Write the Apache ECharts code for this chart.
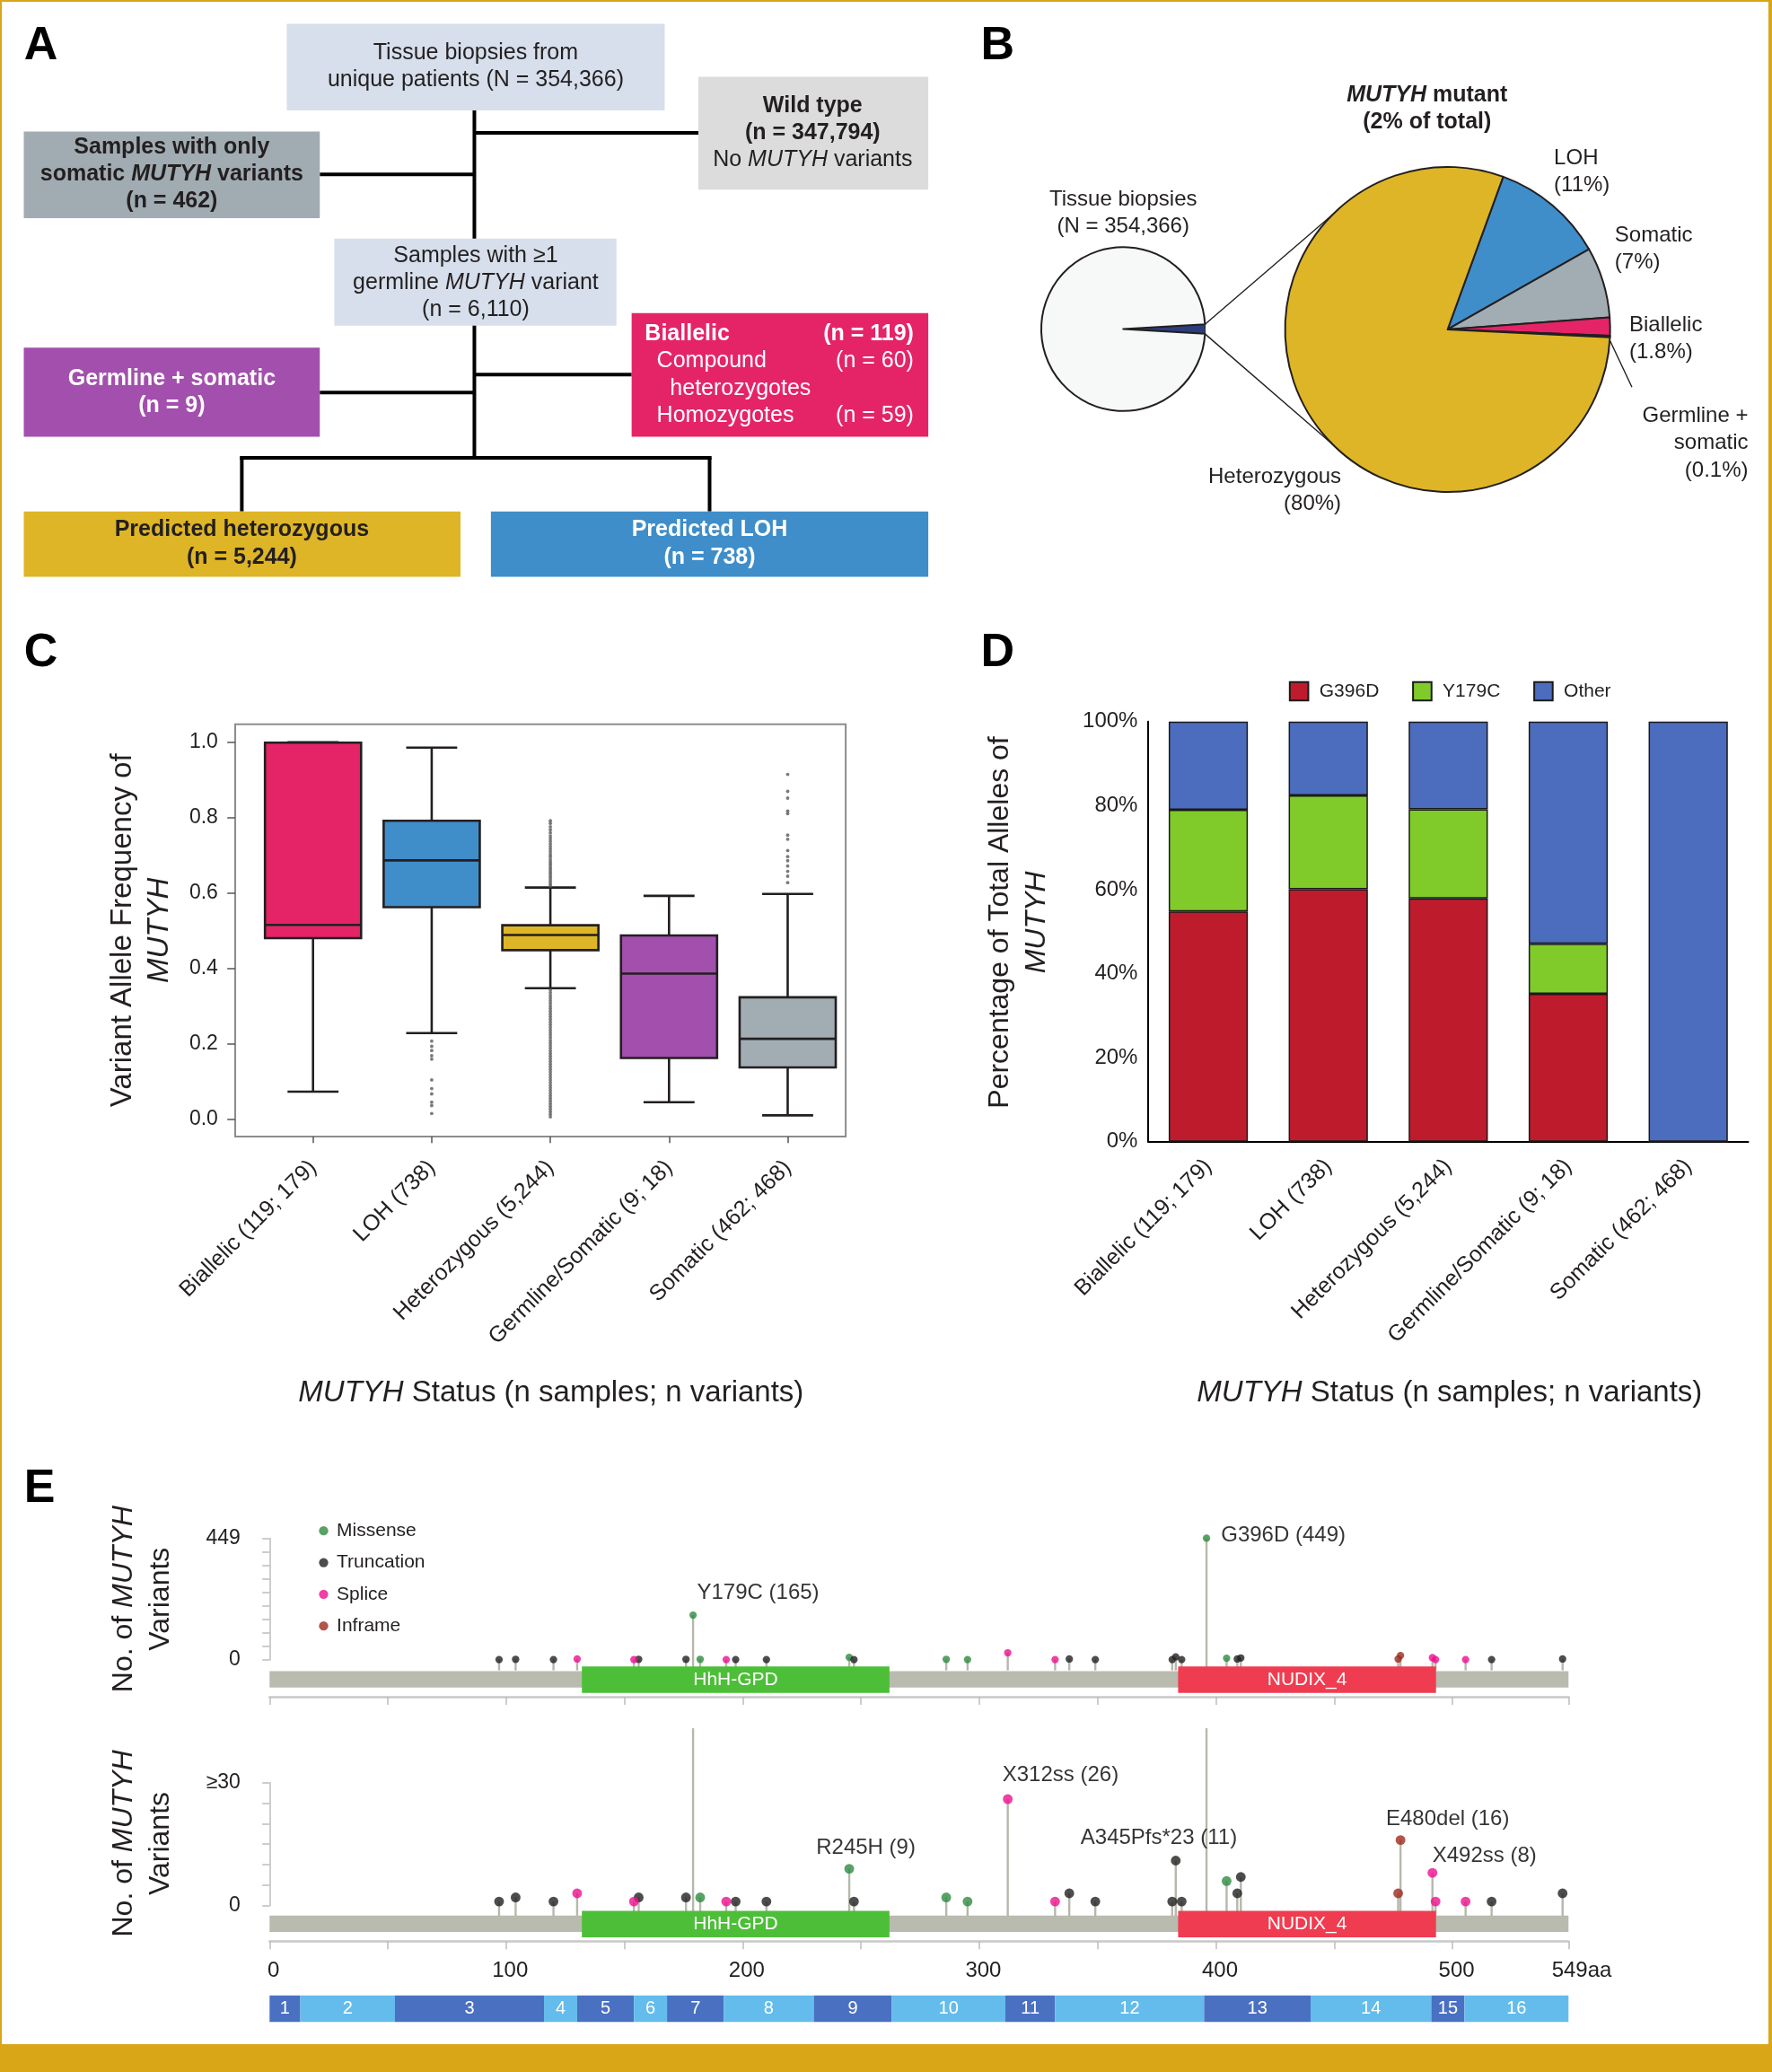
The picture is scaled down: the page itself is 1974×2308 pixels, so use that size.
<!DOCTYPE html>
<html><head><meta charset="utf-8">
<script src="https://cdn.jsdelivr.net/npm/echarts@6/dist/echarts.min.js"></script>
<style>
html,body{margin:0;padding:0;}
#bg{position:absolute;left:0;top:0;width:1974px;height:2308px;background:#D9A618;}
#paper{position:absolute;left:2px;top:2px;width:1968px;height:2275px;background:#fff;}
#c{position:absolute;left:0;top:0;width:1974px;height:2308px;}
</style>
</head><body>
<div id="bg"></div><div id="paper"></div><div id="c"></div>
<script>
// ================= DATA =================
// Panel B
const tissueNames = ['MUTYH mutant', 'Wild type'];
const tissueCounts = [6572, 347794];
const mutantNames = ['LOH', 'Somatic', 'Biallelic', 'Germline + somatic', 'Heterozygous'];
const mutantCounts = [738, 462, 119, 9, 5244];
const mutantLabelNames = ['LOH', 'Somatic', 'Biallelic', 'Germline +\nsomatic', 'Heterozygous'];
const mutantPctLabels = ['11%', '7%', '1.8%', '0.1%', '80%'];

// Panel C
const statusCategories = ['Biallelic (119; 179)', 'LOH (738)', 'Heterozygous (5,244)', 'Germline/Somatic (9; 18)', 'Somatic (462; 468)'];
// [low whisker, Q1, median, Q3, high whisker]
const vafBoxes = [
  [0.074, 0.481, 0.516, 0.999, 1.000],
  [0.229, 0.563, 0.687, 0.792, 0.986],
  [0.348, 0.449, 0.489, 0.515, 0.615],
  [0.046, 0.163, 0.387, 0.488, 0.593],
  [0.011, 0.138, 0.214, 0.324, 0.598]
];
const vafOutliersLOH = [0.208, 0.194, 0.183, 0.169, 0.160, 0.105, 0.082, 0.068, 0.046, 0.037, 0.016];
const vafOutliersHet = [0.792, 0.785, 0.776, 0.768, 0.760, 0.752, 0.745, 0.738, 0.731, 0.724, 0.717, 0.710, 0.703, 0.697, 0.690, 0.684, 0.678, 0.672, 0.666, 0.660, 0.654, 0.648, 0.642, 0.636, 0.630, 0.624, 0.619,
  0.343, 0.336, 0.329, 0.322, 0.315, 0.308, 0.301, 0.294, 0.287, 0.280, 0.273, 0.266, 0.259, 0.252, 0.245, 0.238, 0.231, 0.224, 0.217, 0.210, 0.203, 0.196, 0.189, 0.182, 0.175, 0.168, 0.161, 0.154, 0.147, 0.140, 0.133, 0.126, 0.119, 0.112, 0.105, 0.098, 0.091, 0.084, 0.077, 0.070, 0.063, 0.056, 0.049, 0.042, 0.035, 0.028, 0.021, 0.014, 0.007];
const vafOutliersSomatic = [0.915, 0.870, 0.852, 0.818, 0.811, 0.754, 0.743, 0.713, 0.697, 0.686, 0.672, 0.658, 0.645, 0.628];
const vafTicks = [0, 0.2, 0.4, 0.6, 0.8, 1.0];

// Panel D
const pctG396D = [54.8, 60.1, 57.9, 35.2, 0];
const pctY179C = [24.2, 22.3, 21.2, 11.9, 0];
const pctOther = [21.0, 17.6, 20.9, 52.9, 100];

// Panel E
const proteinLength = 549;
const domains = [['HhH-GPD', 132, 262], ['NUDIX_4', 384, 493]];
const exons = [[1, 0, 13], [2, 13, 53], [3, 53, 116], [4, 116, 130], [5, 130, 154], [6, 154, 168], [7, 168, 192], [8, 192, 230],
  [9, 230, 263], [10, 263, 311], [11, 311, 332], [12, 332, 395], [13, 395, 440], [14, 440, 491], [15, 491, 505], [16, 505, 549]];
const mutTypes = ['Missense', 'Truncation', 'Splice', 'Inframe'];
// [amino-acid position, count, type, name]
const mutations = [
  [97, 1, 'Truncation', ''], [104, 2, 'Truncation', ''], [120, 1, 'Truncation', ''], [130, 3, 'Splice', ''],
  [154, 1, 'Splice', ''], [156, 2, 'Truncation', ''], [176, 2, 'Truncation', ''], [179, 165, 'Missense', 'Y179C'],
  [182, 2, 'Missense', ''], [193, 1, 'Splice', ''], [197, 1, 'Truncation', ''], [210, 1, 'Truncation', ''],
  [245, 9, 'Missense', 'R245H'], [247, 1, 'Truncation', ''], [286, 2, 'Missense', ''], [295, 1, 'Missense', ''],
  [312, 26, 'Splice', 'X312ss'], [332, 1, 'Splice', ''], [338, 3, 'Truncation', ''], [349, 1, 'Truncation', ''],
  [381.5, 1, 'Truncation', ''], [383, 11, 'Truncation', 'A345Pfs*23'], [385.5, 1, 'Truncation', ''], [396, 449, 'Missense', 'G396D'],
  [404.5, 6, 'Missense', ''], [409, 3, 'Truncation', ''], [410.5, 7, 'Truncation', ''], [477, 3, 'Inframe', ''],
  [478, 16, 'Inframe', 'E480del'], [491.5, 8, 'Splice', 'X492ss'], [492.8, 1, 'Splice', ''], [505.5, 1, 'Splice', ''],
  [516.5, 1, 'Truncation', ''], [546.5, 3, 'Truncation', '']
];
const aaTickValues = [0, 50, 100, 150, 200, 250, 300, 350, 400, 450, 500, 549];
const aaLabelValues = [0, 100, 200, 300, 400, 500, 549];
const topCountLabels = [0, 449];
const bottomCountLabels = [0, 30];

// ================= STYLE =================
const S = 1974 / 1341;
const P = v => v * S;
const FONT = '"Liberation Sans", Arial, sans-serif';
const INK = '#231F20';
const statusColors = ['#E52467', '#3F8DC9', '#DEB526', '#A34FAD', '#A2ADB3'];
const pieColors = ['#3F8DC9', '#A2ADB3', '#E52467', '#3a3a3a', '#DEB526'];
const mutColors = { Missense: '#2E8B40', Truncation: '#231F20', Splice: '#EE0F8D', Inframe: '#9E2A1F' };
const domainColors = { 'HhH-GPD': '#4DBE38', 'NUDIX_4': '#F03C50' };
const exonColors = ['#4A70C2', '#63BCEC'];
const labelOffsets = { // display px relative to dot centre
  'Y179C': [3, -17], 'G396D': [11, -2], 'X312ss': [-4, -18], 'R245H': [-25, -16],
  'A345Pfs*23': [-72, -17], 'E480del': [-11, -16], 'X492ss': [0, -13]
};
const BOTTOM_MAX = 30, BOTTOM_CLIP = 43.3;

const chart = echarts.init(document.getElementById('c'), null, { renderer: 'canvas' });

// ---------- graphic helpers ----------
const rs = (size, weight, italic, color) => ({ fontSize: size, fontFamily: FONT, fontWeight: weight, fontStyle: italic ? 'italic' : 'normal', fill: color, lineHeight: P(20.5) });
function T(x, y, text, o) {
  return { type: 'text', x: P(x), y: P(y), silent: true, z: 10,
    style: Object.assign({ text: text, fontSize: 25, fontFamily: FONT, fill: INK, align: 'center', verticalAlign: 'middle', lineHeight: P(20.5) }, o || {}) };
}
function BOX(x1, y1, x2, y2, fill) {
  return { type: 'rect', silent: true, z: 5, shape: { x: P(x1), y: P(y1), width: P(x2 - x1), height: P(y2 - y1) }, style: { fill: fill } };
}
function LN(x1, y1, x2, y2, w, c) {
  return { type: 'line', silent: true, z: 4, shape: { x1: P(x1), y1: P(y1), x2: P(x2), y2: P(y2) }, style: { stroke: c || '#000', lineWidth: w } };
}
const G = [];
// panel letters
[['A', 31, 35], ['B', 755, 35], ['C', 31, 494], ['D', 755, 494], ['E', 30, 1127]].forEach(l =>
  G.push(T(l[1], l[2], l[0], { fontSize: 52, fontWeight: 'bold', fill: '#000' })));

// ---------- Panel A flowchart ----------
const LW = 4;
G.push(LN(359, 83, 359, 181, LW), LN(359, 100.5, 529, 100.5, LW), LN(242, 132, 359, 132, LW),
  LN(359, 246, 359, 347, LW), LN(359, 283.5, 478, 283.5, LW), LN(242, 297, 359, 297, LW),
  LN(181.5, 346.5, 538.5, 346.5, LW), LN(183, 346.5, 183, 387, LW), LN(537, 346.5, 537, 387, LW));
G.push(BOX(217, 18, 503, 83.5, '#D6DFEB'), BOX(528.5, 58, 702.5, 143.5, '#DCDCDC'),
  BOX(18, 99.5, 242, 165, '#A1ACB2'), BOX(253, 180.5, 466.5, 246.5, '#D6DFEB'),
  BOX(18, 263, 242, 330.5, '#A34FAD'), BOX(478, 237, 702.5, 330.5, '#E52467'),
  BOX(18, 387, 348.5, 436.5, '#DEB526'), BOX(371.5, 387, 702.5, 436.5, '#3F8DC9'));
G.push(T(360, 50.3, 'Tissue biopsies from\nunique patients (N = 354,366)'));
G.push(T(615, 100.5, '{b|Wild type}\n{b|(n = 347,794)}\n{n|No }{i|MUTYH}{n| variants}',
  { rich: { b: rs(25, 'bold', false, INK), n: rs(25, 'normal', false, INK), i: rs(25, 'normal', true, INK) } }));
G.push(T(130, 132, '{b|Samples with only}\n{b|somatic }{i|MUTYH}{b| variants}\n{b|(n = 462)}',
  { rich: { b: rs(25, 'bold', false, INK), i: rs(25, 'bold', true, INK) } }));
G.push(T(360, 214, '{n|Samples with ≥1}\n{n|germline }{i|MUTYH}{n| variant}\n{n|(n = 6,110)}',
  { rich: { n: rs(25, 'normal', false, INK), i: rs(25, 'normal', true, INK) } }));
G.push(T(130, 296.8, 'Germline + somatic\n(n = 9)', { fontWeight: 'bold', fill: '#fff' }));
G.push(T(488, 253, 'Biallelic', { align: 'left', fontWeight: 'bold', fill: '#fff' }));
G.push(T(497, 273.5, 'Compound', { align: 'left', fill: '#fff' }));
G.push(T(507, 294, 'heterozygotes', { align: 'left', fill: '#fff' }));
G.push(T(497, 314.5, 'Homozygotes', { align: 'left', fill: '#fff' }));
G.push(T(691.5, 253, '(n = 119)', { align: 'right', fontWeight: 'bold', fill: '#fff' }));
G.push(T(691.5, 273.5, '(n = 60)', { align: 'right', fill: '#fff' }));
G.push(T(691.5, 314.5, '(n = 59)', { align: 'right', fill: '#fff' }));
G.push(T(183, 411.4, 'Predicted heterozygous\n(n = 5,244)', { fontWeight: 'bold' }));
G.push(T(537, 411.4, 'Predicted LOH\n(n = 738)', { fontWeight: 'bold', fill: '#fff' }));

// ---------- Panel B texts & connectors ----------
const smallC = [850, 249], smallR = 62, bigC = [1095.5, 249.3], bigR = 123;
const mutFrac = tissueCounts[0] / (tissueCounts[0] + tissueCounts[1]);
const halfWedge = Math.PI * mutFrac;
const bigTangent = 3 * Math.PI / 4;
G.push(LN(smallC[0] + smallR * Math.cos(halfWedge), smallC[1] - smallR * Math.sin(halfWedge),
  bigC[0] + bigR * Math.cos(bigTangent), bigC[1] - bigR * Math.sin(bigTangent), 1.4, '#231F20'));
G.push(LN(smallC[0] + smallR * Math.cos(halfWedge), smallC[1] + smallR * Math.sin(halfWedge),
  bigC[0] + bigR * Math.cos(bigTangent), bigC[1] + bigR * Math.sin(bigTangent), 1.4, '#231F20'));
G.push(LN(1218.5, 258, 1235, 293, 1.4, '#231F20'));
G.push(T(1080, 82, '{i|MUTYH}{b| mutant}\n{b|(2% of total)}',
  { rich: { b: rs(25, 'bold', false, INK), i: rs(25, 'bold', true, INK) } }));
G.push(T(850, 161, 'Tissue biopsies\n(N = 354,366)', { fontSize: 24 }));
const pieLabelLayout = [[1176, 120, 'left'], [1222, 178, 'left'], [1233, 246, 'left'], [1323, 315, 'right'], [1015, 361, 'right']];
mutantNames.forEach((n, i) => {
  const L = pieLabelLayout[i];
  G.push(T(L[0], L[1] - 10.25, mutantLabelNames[i] + '\n(' + mutantPctLabels[i] + ')', { fontSize: 24, align: L[2], verticalAlign: 'top' }));
});

// ---------- Axis titles ----------
const titleRich = sz => ({ n: { fontSize: sz, fontFamily: FONT, fill: INK, lineHeight: P(28) }, i: { fontSize: sz, fontFamily: FONT, fontStyle: 'italic', fill: INK, lineHeight: P(28) } });
G.push(T(417, 1054, '{i|MUTYH}{n| Status (n samples; n variants)}', { rich: titleRich(33) }));
G.push(T(1097, 1054, '{i|MUTYH}{n| Status (n samples; n variants)}', { rich: titleRich(33) }));
function vTitle(x, y, text, sz) {
  const t = T(x, y, text, { rich: titleRich(sz) });
  t.rotation = Math.PI / 2;
  return t;
}
G.push(vTitle(107, 704, '{n|Variant Allele Frequency of}\n{i|MUTYH}', 33));
G.push(vTitle(771, 698, '{n|Percentage of Total Alleles of}\n{i|MUTYH}', 32));
G.push(vTitle(108, 1210, '{n|No. of }{i|MUTYH}\n{n|Variants}', 32));
G.push(vTitle(108, 1395, '{n|No. of }{i|MUTYH}\n{n|Variants}', 32));

// ================= SERIES =================
const series = [];
// Panel B pies
series.push({
  type: 'pie', silent: true, center: [P(smallC[0]), P(smallC[1])], radius: P(smallR),
  startAngle: 180 * mutFrac, clockwise: true, label: { show: false }, labelLine: { show: false },
  itemStyle: { borderColor: INK, borderWidth: 2 },
  data: tissueNames.map((n, i) => ({ name: n, value: tissueCounts[i], itemStyle: { color: i === 0 ? '#2C3D7C' : '#F7F8F8', borderWidth: i === 0 ? 1 : 2 } }))
});
series.push({
  type: 'pie', silent: true, center: [P(bigC[0]), P(bigC[1])], radius: P(bigR),
  startAngle: 70, clockwise: true, label: { show: false }, labelLine: { show: false },
  itemStyle: { borderColor: INK, borderWidth: 2 },
  data: mutantNames.map((n, i) => ({ name: n, value: mutantCounts[i], itemStyle: { color: pieColors[i] } }))
});

// Panel C boxes
series.push({
  type: 'custom', name: 'vafBox', xAxisIndex: 1, yAxisIndex: 1, silent: true, z: 3,
  encode: { x: 0, y: [1, 2, 3, 4, 5] },
  data: vafBoxes.map((b, i) => [i].concat(b)),
  renderItem: function (params, api) {
    const i = api.value(0);
    const band = api.size([1, 0])[0];
    const bw = band * 0.81, cw = band * 0.43;
    const x = api.coord([i, 0])[0];
    const yy = [1, 2, 3, 4, 5].map(d => api.coord([i, api.value(d)])[1]);
    const st = { stroke: '#231F20', lineWidth: 2.6 };
    return { type: 'group', children: [
      { type: 'line', shape: { x1: x, y1: yy[4], x2: x, y2: yy[3] }, style: st },
      { type: 'line', shape: { x1: x, y1: yy[1], x2: x, y2: yy[0] }, style: st },
      { type: 'line', shape: { x1: x - cw / 2, y1: yy[4], x2: x + cw / 2, y2: yy[4] }, style: st },
      { type: 'line', shape: { x1: x - cw / 2, y1: yy[0], x2: x + cw / 2, y2: yy[0] }, style: st },
      { type: 'rect', shape: { x: x - bw / 2, y: yy[3], width: bw, height: yy[1] - yy[3] }, style: { fill: statusColors[i], stroke: '#231F20', lineWidth: 2.6 } },
      { type: 'line', shape: { x1: x - bw / 2, y1: yy[2], x2: x + bw / 2, y2: yy[2] }, style: st }
    ] };
  }
});
series.push({
  type: 'scatter', name: 'outliers', xAxisIndex: 1, yAxisIndex: 1, silent: true, z: 4, clip: false,
  symbolSize: P(2.6), itemStyle: { color: '#5A5A5A' },
  data: vafOutliersLOH.map(v => [1, v]).concat(vafOutliersHet.map(v => [2, v]), vafOutliersSomatic.map(v => [4, v]))
});

// Panel D stacked bars
[['G396D', pctG396D, '#BE1C2D'], ['Y179C', pctY179C, '#80CB2A'], ['Other', pctOther, '#4C6CBE']].forEach(s => {
  series.push({ type: 'bar', name: s[0], stack: 'alleles', xAxisIndex: 2, yAxisIndex: 2, barWidth: '66%', silent: true,
    itemStyle: { color: s[2], borderColor: '#1a1a1a', borderWidth: 1.5 }, data: s[1] });
});

// Panel E
function stemSeries(xi, clipMax) {
  return { type: 'custom', name: 'stems', xAxisIndex: xi, yAxisIndex: xi, silent: true, z: 3, clip: false,
    encode: { x: 0, y: 1 }, data: mutations.map(m => [m[0], m[1]]),
    renderItem: function (params, api) {
      const aa = api.value(0), v = api.value(1);
      const top = api.coord([aa, Math.min(v, clipMax)]);
      const base = api.coord([aa, 0]);
      return { type: 'line', shape: { x1: top[0], y1: top[1], x2: top[0], y2: base[1] + P(8) }, style: { stroke: '#B5B8AB', lineWidth: 2.4 } };
    } };
}
series.push(stemSeries(3, Infinity), stemSeries(5, BOTTOM_CLIP));
function dotSeries(xi, isTop) {
  return mutTypes.map(t => ({
    type: 'scatter', name: t, xAxisIndex: xi, yAxisIndex: xi, silent: true, z: 5, clip: false,
    symbol: 'circle', symbolSize: isTop ? P(5.6) : P(7.4), itemStyle: { color: mutColors[t] },
    data: mutations.filter(m => m[2] === t && (isTop || m[1] <= BOTTOM_MAX)).map(m => {
      const showLabel = m[3] !== '' && (isTop ? m[1] > BOTTOM_MAX : m[1] <= BOTTOM_MAX);
      const off = labelOffsets[m[3]] || [0, 0];
      return { value: [m[0], m[1]], label: showLabel ? {
        show: true, position: 'inside', align: 'left', verticalAlign: 'middle', offset: [P(off[0]), P(off[1])],
        formatter: m[3] + ' (' + m[1] + ')', fontSize: 24, fontFamily: FONT, color: '#000',
        textBorderWidth: 0, textBorderColor: 'transparent', textShadowBlur: 0 } : { show: false } };
    })
  }));
}
series.push(...dotSeries(3, true), ...dotSeries(5, false));
function proteinSeries(xi) {
  return [{
    type: 'custom', name: 'protein', xAxisIndex: xi, yAxisIndex: xi, silent: true, z: 2, clip: false,
    encode: { x: [0, 1], y: -1 }, data: [[0, proteinLength]],
    renderItem: function (params, api) {
      const a = api.coord([api.value(0), 1]), b = api.coord([api.value(1), 0]);
      const h = b[1] - a[1];
      return { type: 'rect', shape: { x: a[0], y: a[1] + h * 0.18, width: b[0] - a[0], height: h * 0.62 }, style: { fill: '#B8BBAE' } };
    }
  }, {
    type: 'custom', name: 'domains', xAxisIndex: xi, yAxisIndex: xi, silent: true, z: 3, clip: false,
    encode: { x: [0, 1], y: -1 }, data: domains.map(d => [d[1], d[2]]),
    renderItem: function (params, api) {
      const a = api.coord([api.value(0), 1]), b = api.coord([api.value(1), 0]);
      const name = domains[params.dataIndex][0];
      return { type: 'group', children: [
        { type: 'rect', shape: { x: a[0], y: a[1], width: b[0] - a[0], height: b[1] - a[1] }, style: { fill: domainColors[name] } },
        { type: 'text', x: (a[0] + b[0]) / 2, y: (a[1] + b[1]) / 2, style: { text: name, fontSize: 21, fontFamily: FONT, fill: '#fff', align: 'center', verticalAlign: 'middle' } }
      ] };
    }
  }];
}
series.push(...proteinSeries(4), ...proteinSeries(6));
series.push({
  type: 'custom', name: 'exons', xAxisIndex: 7, yAxisIndex: 7, silent: true, z: 3, clip: false,
  encode: { x: [0, 1], y: -1 }, data: exons.map(e => [e[1], e[2]]),
  renderItem: function (params, api) {
    const a = api.coord([api.value(0), 1]), b = api.coord([api.value(1), 0]);
    const num = exons[params.dataIndex][0];
    return { type: 'group', children: [
      { type: 'rect', shape: { x: a[0], y: a[1], width: b[0] - a[0], height: b[1] - a[1] }, style: { fill: exonColors[(num + 1) % 2] } },
      { type: 'text', x: (a[0] + b[0]) / 2, y: (a[1] + b[1]) / 2, style: { text: String(num), fontSize: 20, fontFamily: FONT, fill: '#fff', align: 'center', verticalAlign: 'middle' } }
    ] };
  }
});

// ================= AXES =================
const hidden = (gi, extra) => Object.assign({ gridIndex: gi, type: 'value', show: false }, extra || {});
const EW = 983;
const option = {
  animation: false,
  textStyle: { fontFamily: FONT },
  grid: [
    { left: P(178), top: P(548), width: P(462), height: P(312), show: true, borderColor: '#8C8C8C', borderWidth: 2 },
    { left: P(192), top: P(548), width: P(449), height: P(312) },
    { left: P(869), top: P(546), width: P(454), height: P(318) },
    { left: P(204), top: P(1164), width: P(EW), height: P(92) },
    { left: P(204), top: P(1261), width: P(EW), height: P(20) },
    { left: P(204), top: P(1349), width: P(EW), height: P(93) },
    { left: P(204), top: P(1446), width: P(EW), height: P(20) },
    { left: P(204), top: P(1510), width: P(EW), height: P(20) }
  ],
  xAxis: [
    hidden(0, { min: 0, max: 1 }),
    { gridIndex: 1, type: 'category', data: statusCategories, axisLine: { show: false, onZero: false },
      axisTick: { show: true, alignWithLabel: true, length: P(5), lineStyle: { color: '#555', width: 1.5 } },
      axisLabel: { interval: 0, rotate: 45, fontSize: 25, color: INK, margin: P(21) } },
    { gridIndex: 2, type: 'category', data: statusCategories, axisLine: { show: true, onZero: false, lineStyle: { color: '#000', width: 2 } },
      axisTick: { show: false }, axisLabel: { interval: 0, rotate: 45, fontSize: 25, color: INK, margin: P(16) } },
    hidden(3, { min: 0, max: proteinLength }),
    { gridIndex: 4, type: 'value', min: 0, max: proteinLength, position: 'bottom', offset: P(3),
      axisLine: { show: true, onZero: false, lineStyle: { color: '#C8C8C8', width: 2.5 } },
      axisTick: { show: true, customValues: aaTickValues, length: P(6), lineStyle: { color: '#BDBDBD', width: 1.5 } },
      axisLabel: { show: false }, splitLine: { show: false } },
    hidden(5, { min: 0, max: proteinLength }),
    { gridIndex: 6, type: 'value', min: 0, max: proteinLength, position: 'bottom', offset: P(3),
      axisLine: { show: true, onZero: false, lineStyle: { color: '#C8C8C8', width: 2.5 } },
      axisTick: { show: true, customValues: aaTickValues, length: P(6), lineStyle: { color: '#BDBDBD', width: 1.5 } },
      axisLabel: { show: true, customValues: aaLabelValues,
        formatter: v => (v === proteinLength ? '{e|' + proteinLength + 'aa}' : '{n|' + v + '}'),
        rich: { n: { fontSize: 24, color: INK, padding: [0, 0, 0, P(6)] }, e: { fontSize: 24, color: INK, padding: [0, 0, 0, P(20)] } },
        fontSize: 24, color: INK, margin: P(14) },
      splitLine: { show: false } },
    hidden(7, { min: 0, max: proteinLength })
  ],
  yAxis: [
    { gridIndex: 0, type: 'value', min: -0.045, max: 1.048, axisLine: { show: false },
      axisTick: { show: true, customValues: vafTicks, length: P(6), lineStyle: { color: '#555', width: 1.5 } },
      axisLabel: { customValues: vafTicks, formatter: v => v.toFixed(1), fontSize: 23, color: INK, margin: P(13) },
      splitLine: { show: false } },
    hidden(1, { min: -0.045, max: 1.048 }),
    { gridIndex: 2, type: 'value', min: 0, max: 100, interval: 20, axisLine: { show: true, lineStyle: { color: '#000', width: 2 } },
      axisTick: { show: false }, axisLabel: { formatter: '{value}%', fontSize: 24, color: INK, margin: P(8) }, splitLine: { show: false } },
    { gridIndex: 3, type: 'value', min: 0, max: 449, offset: P(9),
      axisLine: { show: true, lineStyle: { color: '#BDBDBD', width: 1.5 } },
      axisTick: { show: true, customValues: [0, 1, 2, 3, 4, 5, 6, 7, 8, 9].map(k => 449 * k / 9), length: P(5.5), lineStyle: { color: '#BDBDBD', width: 1.5 } },
      axisLabel: { customValues: topCountLabels, fontSize: 23, color: INK, margin: P(13) }, splitLine: { show: false } },
    hidden(4, { min: 0, max: 1 }),
    { gridIndex: 5, type: 'value', min: 0, max: BOTTOM_MAX, offset: P(9),
      axisLine: { show: true, lineStyle: { color: '#BDBDBD', width: 1.5 } },
      axisTick: { show: true, customValues: [0, 5, 10, 15, 20, 25, 30], length: P(5.5), lineStyle: { color: '#BDBDBD', width: 1.5 } },
      axisLabel: { customValues: bottomCountLabels, formatter: v => (v === BOTTOM_MAX ? '≥' + v : String(v)), fontSize: 23, color: INK, margin: P(13) },
      splitLine: { show: false } },
    hidden(6, { min: 0, max: 1 }),
    hidden(7, { min: 0, max: 1 })
  ],
  legend: [
    { data: ['G396D', 'Y179C', 'Other'], left: P(972), top: P(512), itemWidth: P(14), itemHeight: P(14), itemGap: P(25),
      icon: 'rect', selectedMode: false, textStyle: { fontSize: 21, color: INK, padding: [0, 0, 0, P(5)] } },
    { data: mutTypes, orient: 'vertical', left: P(238), top: P(1147), itemWidth: P(7), itemHeight: P(7), itemGap: P(8),
      icon: 'circle', selectedMode: false, textStyle: { fontSize: 21, color: INK, lineHeight: P(16), padding: [0, 0, 0, P(3)] } }
  ],
  graphic: { elements: G },
  series: series
};
chart.setOption(option);
</script>
</body></html>
